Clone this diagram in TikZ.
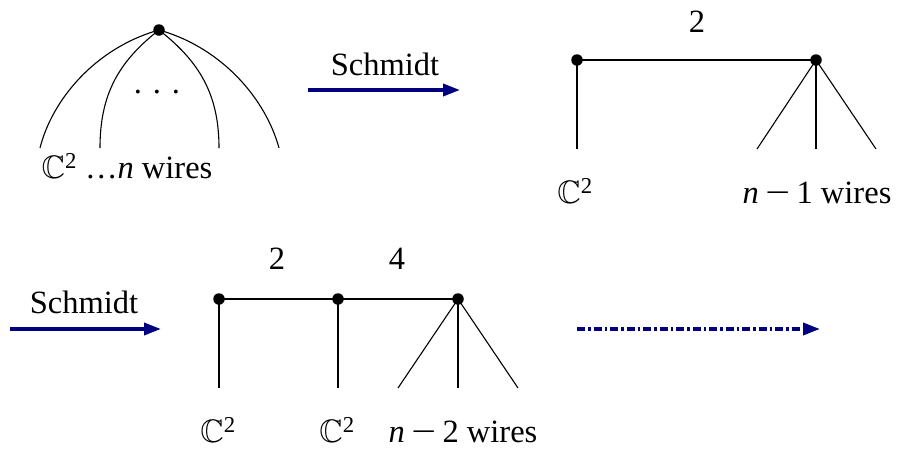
\documentclass[tikz,border=0pt]{standalone}
\usepackage{amsmath,amssymb,graphicx}
\usepackage[no-math]{fontspec}
\setmainfont{Liberation Serif}
\usetikzlibrary{arrows.meta}
\definecolor{navy}{RGB}{0,0,128}
\newcommand{\CC}{\(\mathbb{C}^{\text{2}}\)}
\newcommand{\mminus}{\hspace{0.2em}\scalebox{1.35}[1]{−}\hspace{0.2em}}
\begin{document}
\begin{tikzpicture}[x=1pt,y=-1pt,
  wire/.style={line width=1.1pt},
  vtx/.style={circle,fill=black,inner sep=0pt,minimum size=11.5pt},
  lbl/.style={anchor=base,inner sep=0pt,font=\fontsize{32.5}{38}\selectfont},
  schm/.style={navy,line width=3.5pt,-{Triangle[length=17pt,width=12pt]}},
  dashdot/.style={navy,line width=3.5pt,dash pattern=on 8pt off 3pt on 2.5pt off 3pt,-{Triangle[length=17pt,width=12pt]}}]
\useasboundingbox (0,0) rectangle (899,451);
% first tree
\node[vtx] (t) at (159,30) {};
\coordinate (l1) at (40,148);
\coordinate (l2) at (100,148);
\coordinate (l3) at (219,148);
\coordinate (l4) at (279,148);
\draw[wire] (t.center) .. controls (95,48) and (52,100) .. (l1);
\draw[wire] (t.center) .. controls (118,62) and (100,95) .. (l2);
\draw[wire] (t.center) .. controls (200,62) and (219,95) .. (l3);
\draw[wire] (t.center) .. controls (223,48) and (266,100) .. (l4);
\node[lbl] (dots) at (157,93) {. . .};
\node[lbl] (lab1) at (127,178) {\CC\ \ldots\textit{n} wires};
% first arrow
\coordinate (a1s) at (308,90);
\coordinate (a1e) at (460,90);
\draw[schm] (a1s) -- (a1e);
\node[lbl] (s1) at (385,75) {Schmidt};
% second tree
\node[vtx] (p) at (577,60) {};
\node[vtx] (q) at (816,60) {};
\coordinate (p1) at (577,149);
\coordinate (q1) at (757,149);
\coordinate (q2) at (816,149);
\coordinate (q3) at (876,149);
\draw[wire] (p.center) -- (q.center);
\draw[wire] (p.center) -- (p1);
\draw[wire] (q.center) -- (q1);
\draw[wire] (q.center) -- (q2);
\draw[wire] (q.center) -- (q3);
\node[lbl] (two1) at (697,32) {2};
\node[lbl] (c1) at (575,203) {\CC};
\node[lbl] (w1) at (817,203) {\textit{n}\mminus 1 wires};
% second arrow
\coordinate (a2s) at (10,329);
\coordinate (a2e) at (161,329);
\draw[schm] (a2s) -- (a2e);
\node[lbl] (s2) at (84,313) {Schmidt};
% third tree
\node[vtx] (u) at (219,299) {};
\node[vtx] (v) at (338,299) {};
\node[vtx] (w) at (458,299) {};
\coordinate (u1) at (219,388);
\coordinate (v1) at (338,388);
\coordinate (w1a) at (398,388);
\coordinate (w2a) at (458,388);
\coordinate (w3a) at (518,388);
\draw[wire] (u.center) -- (v.center) -- (w.center);
\draw[wire] (u.center) -- (u1);
\draw[wire] (v.center) -- (v1);
\draw[wire] (w.center) -- (w1a);
\draw[wire] (w.center) -- (w2a);
\draw[wire] (w.center) -- (w3a);
\node[lbl] (two2) at (277,269) {2};
\node[lbl] (four) at (397,269) {4};
\node[lbl] (c2) at (218,442) {\CC};
\node[lbl] (c3) at (337,442) {\CC};
\node[lbl] (w2) at (463,442) {\textit{n}\mminus 2 wires};
% dash-dot arrow
\coordinate (a3s) at (577,329);
\coordinate (a3e) at (820,329);
\draw[dashdot] (a3s) -- (a3e);
\end{tikzpicture}
\end{document}
